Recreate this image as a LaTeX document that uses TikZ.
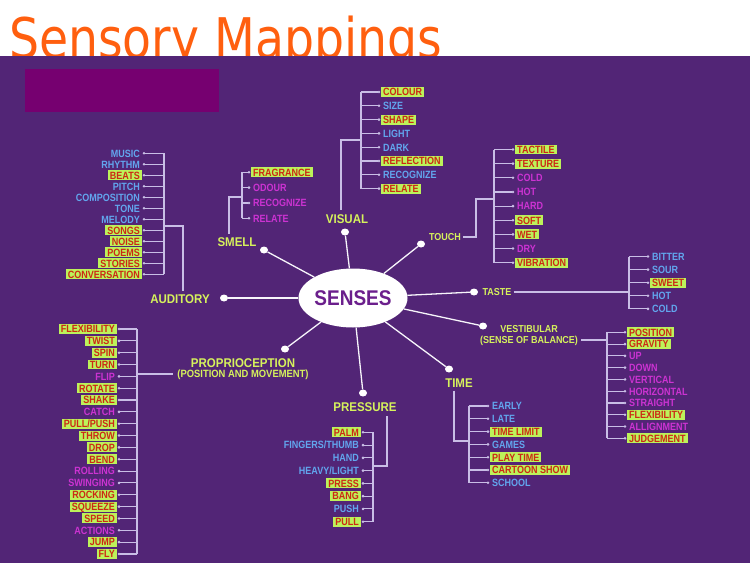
\documentclass[tikz,border=0pt]{standalone}
\usepackage{fontspec}
\setmainfont{Liberation Sans}
\newfontfamily\titlefont{DejaVu Sans}
\usetikzlibrary{shapes.geometric,arrows.meta}
\definecolor{bgpurple}{HTML}{522576}
\definecolor{boxpurple}{HTML}{760070}
\definecolor{lime}{HTML}{BDF25A}
\definecolor{itemred}{HTML}{CC2A14}
\definecolor{itemblue}{HTML}{62A6EE}
\definecolor{itemmag}{HTML}{CC33D2}
\definecolor{headyel}{HTML}{D6F25C}
\definecolor{linecol}{HTML}{C9BEE6}
\definecolor{titleorange}{HTML}{FF5F0F}
\definecolor{sensetext}{HTML}{6B1F8C}
\begin{document}
\begin{tikzpicture}[x=1pt,y=-1pt,
  line/.style={draw=linecol, line width=1.1pt},
  tick/.style={line, -{Circle[length=2.4pt]}, shorten >=0.8pt},
  item/.style={font=\fontsize{9}{9}\selectfont\bfseries, inner xsep=2pt, inner ysep=1pt, text height=6.5pt, text depth=0pt, yscale=1.17, transform shape},
  hi/.style={item, fill=lime, text=itemred},
  bl/.style={item, text=itemblue},
  mg/.style={item, text=itemmag},
  head/.style={font=\fontsize{11.5}{11.5}\selectfont\bfseries, text=headyel, inner sep=0pt, text height=8.2pt, text depth=0pt, yscale=1.1, transform shape},
  headsm/.style={font=\fontsize{9}{9}\selectfont\bfseries, text=headyel, inner sep=0pt, text height=6.5pt, text depth=0pt, yscale=1.12, transform shape},
  dot/.style={ellipse, fill=white, inner sep=0pt, minimum width=8pt, minimum height=7pt},
  spoke/.style={draw=white!85!linecol, line width=1.3pt}
]
\useasboundingbox (0,0) rectangle (750,563);
\fill[white] (0,0) rectangle (750,563);
\node[anchor=base west, inner sep=0pt, font=\titlefont\fontsize{56}{56}\selectfont, text=titleorange, xscale=0.845, transform shape] (title) at (9,58) {Sensory Mappings};
\fill[bgpurple] (0,56) rectangle (750,563);
\fill[boxpurple] (25,69) rectangle (219,112);

% centre
\node[ellipse, fill=white, minimum width=108pt, minimum height=59pt, inner sep=0pt, font=\fontsize{19}{19}\selectfont\bfseries, text=sensetext] (sen) at (353,298) {\scalebox{1}[1.12]{SENSES}};
\node[dot] (dvis) at (345,232) {};
\node[dot] (dtou) at (421,244) {};
\node[dot] (dtas) at (474,292) {};
\node[dot] (dves) at (483,326) {};
\node[dot] (dtim) at (449,369) {};
\node[dot] (dpre) at (363,393) {};
\node[dot] (dpro) at (285,349) {};
\node[dot] (daud) at (224,298) {};
\node[dot] (dsme) at (264,250) {};
\foreach \d in {dvis,dtou,dtas,dves,dtim,dpre,dpro,daud,dsme}
  \draw[spoke] (sen) -- (\d);

% heads
\node[head] (aud) at (180,299) {AUDITORY};
\node[head] (vis) at (347,219) {VISUAL};
\node[head] (sme) at (237,242) {SMELL};
\node[headsm] (tou) at (445,237) {TOUCH};
\node[headsm] (tas) at (497,292) {TASTE};
\node[headsm] (vesA) at (529,329) {VESTIBULAR};
\node[headsm] (vesB) at (529,340) {(SENSE OF BALANCE)};
\node[head] (tim) at (459,383) {TIME};
\node[head] (pre) at (365,407) {PRESSURE};
\node[head] (proA) at (243,363) {PROPRIOCEPTION};
\node[headsm, font=\fontsize{9.4}{9.4}\selectfont\bfseries] (proB) at (243,374) {(POSITION AND MOVEMENT)};

% AUDITORY
\coordinate (audbar) at (164,0);
\foreach \tx/\st [count=\i] in {MUSIC/bl, RHYTHM/bl, BEATS/hi, PITCH/bl, COMPOSITION/bl, TONE/bl, MELODY/bl, SONGS/hi, NOISE/hi, POEMS/hi, STORIES/hi, CONVERSATION/hi}{
  \node[\st, anchor=east] (aud\i) at (142,{153.3+11*(\i-1)}) {\tx};
  \draw[tick] (aud\i.east -| audbar) -- (aud\i.east);
}
\draw[line] (aud1.east -| audbar) -- (aud12.east -| audbar);
\coordinate (audj) at (183,226);
\draw[line] (audj -| audbar) -- (audj) -- ([yshift=3pt]aud.north -| audj);

% VISUAL
\coordinate (visbar) at (361,0);
\foreach \tx/\st [count=\i] in {COLOUR/hi, SIZE/bl, SHAPE/hi, LIGHT/bl, DARK/bl, REFLECTION/hi, RECOGNIZE/bl, RELATE/hi}{
  \node[\st, anchor=west] (vis\i) at (381,{92+13.8*(\i-1)}) {\tx};
  \draw[tick] (vis\i.west -| visbar) -- (vis\i.west);
}
\draw[line] (vis1.west -| visbar) -- (vis8.west -| visbar);
\coordinate (visj) at (341,140);
\draw[line] (visj -| visbar) -- (visj) -- ([yshift=4pt]vis.north -| visj);

% SMELL
\coordinate (smebar) at (242,0);
\foreach \tx/\st [count=\i] in {FRAGRANCE/hi, ODOUR/mg, RECOGNIZE/mg, RELATE/mg}{
  \node[\st, anchor=west] (sme\i) at (251,{172.3+15.33*(\i-1)}) {\tx};
  \draw[tick] (sme\i.west -| smebar) -- (sme\i.west);
}
\draw[line] (sme1.west -| smebar) -- (sme4.west -| smebar);
\coordinate (smej) at (229,197);
\draw[line] (smej -| smebar) -- (smej) -- ([yshift=3pt]sme.north -| smej);

% TOUCH
\coordinate (toubar) at (494,0);
\foreach \tx/\st [count=\i] in {TACTILE/hi, TEXTURE/hi, COLD/mg, HOT/mg, HARD/mg, SOFT/hi, WET/hi, DRY/mg, VIBRATION/hi}{
  \node[\st, anchor=west] (tou\i) at (515,{149.5+14.15*(\i-1)}) {\tx};
  \draw[tick] (tou\i.west -| toubar) -- (tou\i.west);
}
\draw[line] (tou1.west -| toubar) -- (tou9.west -| toubar);
\coordinate (touj) at (476,199);
\draw[line] (touj -| toubar) -- (touj) -- (tou.east -| touj) -- ([xshift=2pt]tou.east);

% TASTE
\coordinate (tasbar) at (629,0);
\foreach \tx/\st [count=\i] in {BITTER/bl, SOUR/bl, SWEET/hi, HOT/bl, COLD/bl}{
  \node[\st, anchor=west] (tas\i) at (650,{256.5+13.1*(\i-1)}) {\tx};
  \draw[tick] (tas\i.west -| tasbar) -- (tas\i.west);
}
\draw[line] (tas1.west -| tasbar) -- (tas5.west -| tasbar);
\draw[line] ([xshift=2pt]tas.east) -- (tas.east -| tasbar);

% VESTIBULAR
\coordinate (vesbar) at (607,0);
\foreach \tx/\st [count=\i] in {POSITION/hi, GRAVITY/hi, UP/mg, DOWN/mg, VERTICAL/mg, HORIZONTAL/mg, STRAIGHT/mg, FLEXIBILITY/hi, ALLIGNMENT/mg, JUDGEMENT/hi}{
  \node[\st, anchor=west] (ves\i) at (627,{332.3+11.78*(\i-1)}) {\tx};
  \draw[tick] (ves\i.west -| vesbar) -- (ves\i.west);
}
\draw[line] (ves1.west -| vesbar) -- (ves10.west -| vesbar);
\draw[line] ([xshift=3pt]vesB.east) -- (vesB.east -| vesbar);

% TIME
\coordinate (timbar) at (469,0);
\foreach \tx/\st [count=\i] in {EARLY/bl, LATE/bl, TIME LIMIT/hi, GAMES/bl, PLAY TIME/hi, CARTOON SHOW/hi, SCHOOL/bl}{
  \node[\st, anchor=west] (tim\i) at (490,{406+12.8*(\i-1)}) {\tx};
  \draw[tick] (tim\i.west -| timbar) -- (tim\i.west);
}
\draw[line] (tim1.west -| timbar) -- (tim7.west -| timbar);
\coordinate (timj) at (454,441);
\draw[line] ([yshift=-3pt]tim.south -| timj) -- (timj) -- (timj -| timbar);

% PRESSURE
\coordinate (prebar) at (373,0);
\foreach \tx/\st [count=\i] in {PALM/hi, FINGERS\slash THUMB/bl, HAND/bl, HEAVY\slash LIGHT/bl, PRESS/hi, BANG/hi, PUSH/bl, PULL/hi}{
  \node[\st, anchor=east] (pre\i) at (361,{432.3+12.77*(\i-1)}) {\tx};
  \draw[tick] (pre\i.east -| prebar) -- (pre\i.east);
}
\draw[line] (pre1.east -| prebar) -- (pre8.east -| prebar);
\coordinate (prej) at (387,466);
\draw[line] (prej -| prebar) -- (prej) -- ([yshift=-4pt]pre.south -| prej);

% PROPRIOCEPTION
\coordinate (probar) at (137,0);
\foreach \tx/\st [count=\i] in {FLEXIBILITY/hi, TWIST/hi, SPIN/hi, TURN/hi, FLIP/mg, ROTATE/hi, SHAKE/hi, CATCH/mg, PULL\slash PUSH/hi, THROW/hi, DROP/hi, BEND/hi, ROLLING/mg, SWINGING/mg, ROCKING/hi, SQUEEZE/hi, SPEED/hi, ACTIONS/mg, JUMP/hi, FLY/hi}{
  \node[\st, anchor=east] (pro\i) at (117,{329+11.84*(\i-1)}) {\tx};
  \draw[tick] (pro\i.east -| probar) -- (pro\i.east);
}
\draw[line] (pro1.east -| probar) -- (pro20.east -| probar);
\draw[line] (proB.west -| probar) -- ([xshift=-4pt]proB.west);
\end{tikzpicture}
\end{document}
